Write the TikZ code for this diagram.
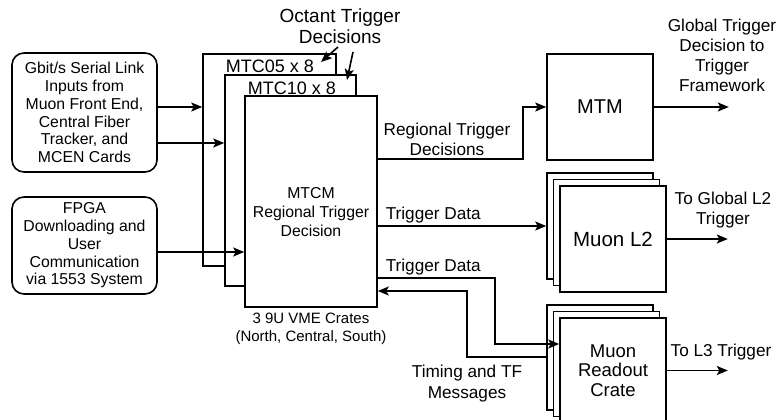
\documentclass[tikz,border=0pt]{standalone}
\usepackage{fontspec}
\setmainfont{Liberation Sans}
\usetikzlibrary{arrows.meta,calc}
\newcommand\fLbl{\fontsize{17.2}{20}\selectfont}
\newcommand\fBox{\fontsize{15.8}{17.8}\selectfont}
\newcommand\fMtc{\fontsize{18}{20}\selectfont}
\begin{document}
\begin{tikzpicture}[x=1pt,y=-1pt,line width=1.6pt,
  box/.style={draw,fill=white,inner sep=0pt,align=center},
  rbox/.style={box,rounded corners=12pt},
  arr/.style={-{Stealth[length=11pt,width=9pt,inset=2.5pt]}},
  lbl/.style={inner sep=0pt,align=center,font=\fLbl}]
\useasboundingbox (0,0) rectangle (779,420);
% left input boxes
\node[rbox,minimum width=145pt,minimum height=119pt,font=\fBox] (box1) at (84.5,112.5)
  {Gbit/s Serial Link\\Inputs from\\Muon Front End,\\Central Fiber\\Tracker, and\\MCEN Cards};
\node[rbox,minimum width=145pt,minimum height=97pt,font=\fBox] (box2) at (84.5,245.5)
  {FPGA\\Downloading and\\User\\Communication\\via 1553 System};
% crate stack
\node[box,minimum width=133pt,minimum height=212pt] (mtc05) at (269.5,160) {};
\node[box,minimum width=131pt,minimum height=211pt] (mtc10) at (290.5,180.5) {};
\node[box,minimum width=132pt,minimum height=211pt] (mtcm) at (311,201.5) {};
\node[inner sep=0pt,font=\fMtc] (mtc05lbl) at (270,66) {MTC05 x 8};
\node[inner sep=0pt,font=\fMtc] (mtc10lbl) at (292,88) {MTC10 x 8};
\node[inner sep=0pt,align=center,font=\fontsize{15.8}{19}\selectfont] (mtcmlbl) at (311,212) {MTCM\\Regional Trigger\\Decision};
\node[inner sep=0pt,align=center,font=\fontsize{15}{18}\selectfont] (vme) at (311,329) {3 9U VME Crates\\(North, Central, South)};
\node[inner sep=0pt,align=center,font=\fontsize{19}{21}\selectfont] (octant) at (340,26.5) {Octant Trigger\\Decisions};
% MTM
\node[box,minimum width=106pt,minimum height=106pt,font=\fontsize{20}{22}\selectfont] (mtm) at (600,107) {MTM};
% Muon L2 stack
\node[box,minimum width=106pt,minimum height=106pt] (l2a) at (600,226) {};
\node[box,minimum width=106pt,minimum height=106pt] (l2b) at (606.5,232.5) {};
\node[box,minimum width=106pt,minimum height=106pt,font=\fontsize{20.5}{22}\selectfont] (l2c) at (613,239) {Muon L2};
% Readout stack
\node[box,minimum width=106pt,minimum height=105pt] (roa) at (600,357.5) {};
\node[box,minimum width=106pt,minimum height=105pt] (rob) at (606.5,364) {};
\node[box,minimum width=106pt,minimum height=105pt,font=\fontsize{18.5}{19.5}\selectfont] (roc) at (613,370.5) {Muon\\Readout\\Crate};
% labels
\node[lbl] (regl) at (447,139) {Regional Trigger\\Decisions};
\node[lbl,anchor=base west] (td1) at (385,219) {Trigger Data};
\node[lbl,anchor=base west] (td2) at (385,271) {Trigger Data};
\node[lbl,font=\fontsize{17.2}{21}\selectfont] (timing) at (467,384) {Timing and TF\\Messages};
\node[lbl] (glob) at (722,55) {Global Trigger\\Decision to\\Trigger\\Framework};
\node[lbl] (togl2) at (723,210) {To Global L2\\Trigger};
\node[lbl] (tol3) at (721,352) {To L3 Trigger};
% coordinates
\coordinate (a1) at ([yshift=5.5pt]box1.east);
\coordinate (a2) at ([yshift=-30.5pt]box1.east);
\coordinate (a3) at ([yshift=-6.5pt]box2.east);
\coordinate (r1) at ([yshift=42.5pt]mtcm.east);
\coordinate (t1) at ([yshift=-24.5pt]mtcm.east);
\coordinate (t2) at ([yshift=-76.5pt]mtcm.east);
\coordinate (t2end) at ([yshift=26.5pt]roc.west);
\coordinate (tstart) at ([yshift=0.5pt]roa.west);
\coordinate (tend) at ([yshift=-89.5pt]mtcm.east);
\coordinate (gtf) at ([xshift=75pt]mtm.east);
\coordinate (l2out) at ([xshift=61pt]l2c.east);
\coordinate (l3out) at ([xshift=61pt]roc.east);
\coordinate (o1s) at (338,47);
\coordinate (o1e) at (321,62);
\coordinate (o2s) at (353,52);
\coordinate (o2e) at (347,80);
% connectors
\draw[arr] (a1) -- (a1 -| mtc05.west);
\draw[arr] (a2) -- (a2 -| mtc10.west);
\draw[arr] (a3) -- (a3 -| mtcm.west);
\draw[arr] (r1) -- ++(145,0) |- (mtm.west);
\draw[arr] (mtm.east) -- (gtf);
\draw[arr] (t1) -- (t1 -| l2a.west);
\draw[arr] (l2c.east) -- (l2out);
\draw[arr] (t2) -- ++(117,0) |- (t2end);
\draw[arr] (tstart) -- ++(-79,0) |- (tend);
\draw[arr] (roc.east) -- (l3out);
\draw[arr] (o1s) -- (o1e);
\draw[arr] (o2s) -- (o2e);
\end{tikzpicture}
\end{document}
